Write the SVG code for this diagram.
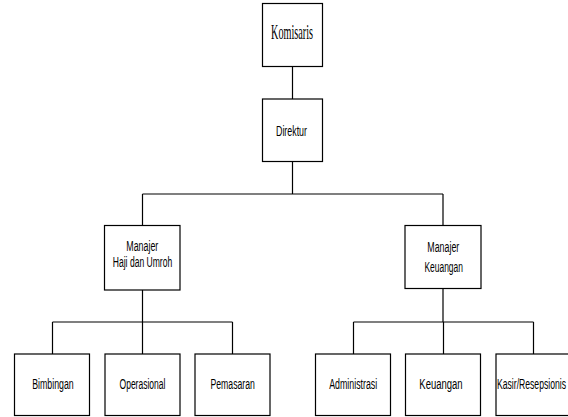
<svg xmlns="http://www.w3.org/2000/svg" width="568" height="417" viewBox="0 0 568 417">
<style>
.box{fill:#fff;stroke:#000;stroke-width:1.2}
.ln{stroke:#000;stroke-width:1.2;fill:none}
.t{font-family:"Liberation Sans",Arial,sans-serif;font-size:14px;fill:#000;text-anchor:middle}
.s{font-family:"Liberation Serif","Times New Roman",serif;font-size:21px;fill:#000;text-anchor:middle}
</style>
<rect width="568" height="417" fill="#fff"/>
<g id="connectors">
<path class="ln" d="M292.5 66.5V99M292.5 161.5V194M142.5 194H443M142.5 194V225.5M443 194V225.5"/>
<path class="ln" d="M142.5 290V322M52.5 322H232.5M52.5 322V354M142.5 322V354M232.5 322V354"/>
<path class="ln" d="M443 288.5V322M353.5 322H533.5M353.5 322V354M443.5 322V354M533.5 322V354"/>
</g>
<g id="komisaris"><rect class="box" x="262.5" y="3.5" width="60" height="63"/><text class="s" x="292" y="39" textLength="42" lengthAdjust="spacingAndGlyphs">Komisaris</text></g>
<g id="direktur"><rect class="box" x="262.5" y="99" width="60" height="62.5"/><text class="t" x="291.5" y="135.5" textLength="31" lengthAdjust="spacingAndGlyphs">Direktur</text></g>
<g id="manajer-haji"><rect class="box" x="104.5" y="225.5" width="75.5" height="64.5"/><text class="t" x="142.3" y="250.7" textLength="32" lengthAdjust="spacingAndGlyphs">Manajer</text><text class="t" x="142.5" y="266.7" textLength="59.5" lengthAdjust="spacingAndGlyphs">Haji dan Umroh</text></g>
<g id="manajer-keuangan"><rect class="box" x="405" y="225.5" width="76" height="63"/><text class="t" x="443.3" y="251.5" textLength="32" lengthAdjust="spacingAndGlyphs">Manajer</text><text class="t" x="443.7" y="272" textLength="38.5" lengthAdjust="spacingAndGlyphs">Keuangan</text></g>
<g id="bimbingan"><rect class="box" x="14.5" y="354" width="75" height="61.5"/><text class="t" x="53" y="389" textLength="41.5" lengthAdjust="spacingAndGlyphs">Bimbingan</text></g>
<g id="operasional"><rect class="box" x="105" y="354" width="75" height="61.5"/><text class="t" x="142.5" y="389" textLength="46" lengthAdjust="spacingAndGlyphs">Operasional</text></g>
<g id="pemasaran"><rect class="box" x="195" y="354" width="75" height="61.5"/><text class="t" x="232.7" y="389" textLength="44.5" lengthAdjust="spacingAndGlyphs">Pemasaran</text></g>
<g id="administrasi"><rect class="box" x="315.5" y="354" width="75" height="61.5"/><text class="t" x="353.2" y="389" textLength="48" lengthAdjust="spacingAndGlyphs">Administrasi</text></g>
<g id="keuangan"><rect class="box" x="405.5" y="354" width="75" height="61.5"/><text class="t" x="441" y="389" textLength="43.3" lengthAdjust="spacingAndGlyphs">Keuangan</text></g>
<g id="kasir"><rect class="box" x="496" y="354" width="75" height="61.5"/><text class="t" x="531.5" y="389" textLength="69" lengthAdjust="spacingAndGlyphs">Kasir/Resepsionis</text></g>
</svg>
